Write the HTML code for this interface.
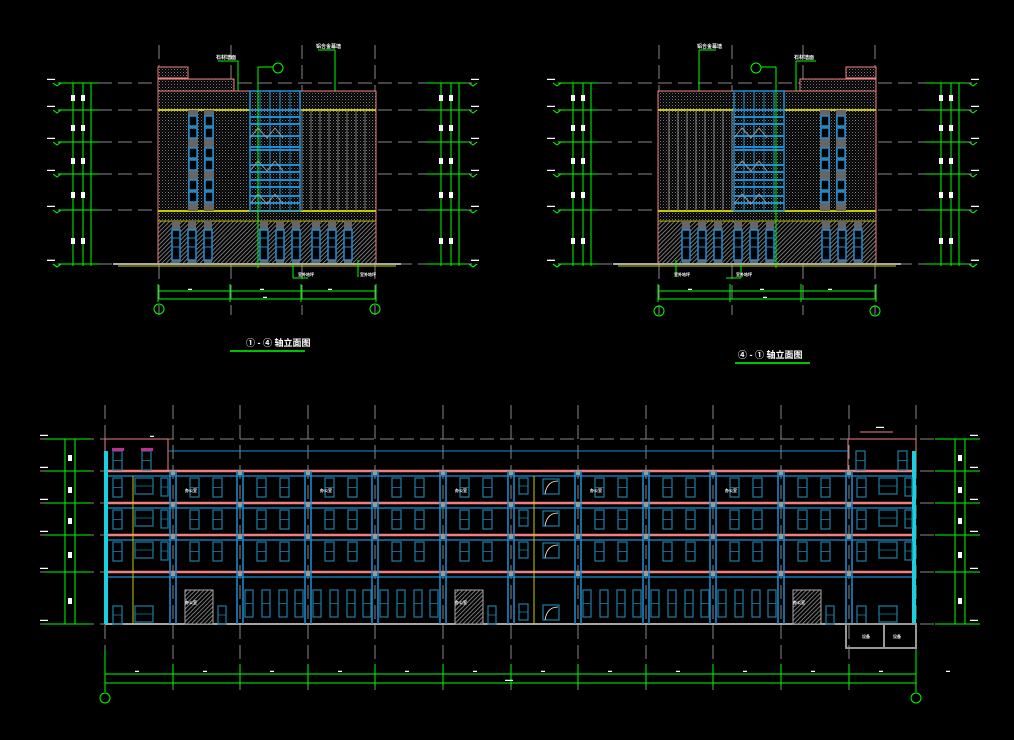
<!DOCTYPE html>
<html><head><meta charset="utf-8"><style>
html,body{margin:0;padding:0;background:#000;width:1014px;height:740px;overflow:hidden}
svg{display:block}
text{font-family:"Liberation Sans","Noto Sans CJK SC",sans-serif;fill:#fff;font-weight:bold}
</style></head><body>
<svg id="s" width="1014" height="740" viewBox="0 0 1014 740" xmlns="http://www.w3.org/2000/svg">
<defs>
<pattern id="dots" width="3" height="3" patternUnits="userSpaceOnUse"><rect width="3" height="3" fill="#000"/><rect x="0" y="0" width="1" height="1" fill="#777"/><rect x="1.5" y="1.5" width="1" height="1" fill="#555"/></pattern>
<pattern id="hatch" width="3" height="3" patternUnits="userSpaceOnUse" patternTransform="rotate(45)"><rect width="3" height="3" fill="#000"/><rect width="1" height="3" fill="#777"/></pattern>
</defs>
<g id="g"></g>
<text x="246" y="346" font-size="9">① - ④ 轴立面图</text>
<line x1="230" y1="351" x2="305" y2="351" stroke="#0f0" stroke-width="1.5"/>
<text x="738" y="358" font-size="9">④ - ① 轴立面图</text>
<line x1="735" y1="363" x2="810" y2="363" stroke="#0f0" stroke-width="1.5"/>
</svg>
<script>
var g=document.getElementById('g'),h='';
function L(x1,y1,x2,y2,c,w,d){h+='<line x1="'+x1+'" y1="'+y1+'" x2="'+x2+'" y2="'+y2+'" stroke="'+c+'" stroke-width="'+(w||1)+'"'+(d?' stroke-dasharray="'+d+'"':'')+'/>';}
function R(x,y,w,hh,f,s,sw){h+='<rect x="'+x+'" y="'+y+'" width="'+w+'" height="'+hh+'" fill="'+(f||'none')+'" stroke="'+(s||'none')+'" stroke-width="'+(sw||1)+'"/>';}
function C(x,y){h+='<circle cx="'+x+'" cy="'+y+'" r="5" fill="none" stroke="#0f0"/>';}
function T(x,y,s,sz){h+='<text x="'+x+'" y="'+y+'" font-size="'+(sz||4)+'">'+s+'</text>';}
var G='#0f0',B='#1a8fd6',P='#f08080',Y='#c8c800',GR='#888',WB='#1b7fa8';
function elev(x0,mir){
 var W=218,X=function(v){return mir? x0+W-v : x0+v;};
 var levels=[83,110,142,174,210,264];
 levels.forEach(function(y){L(x0-100,y,x0+W+100,y,GR,1,'14 6');});
 [1,73,144,217].forEach(function(v){L(X(v),45,X(v),315,GR,1,'14 6');});
 var a=X(0),b=X(30); R(Math.min(a,b),67,30,11,'url(#dots)',P);
 a=X(0);b=X(76); R(Math.min(a,b),79,76,12,'url(#dots)',P);
 R(x0,91,W,130,'url(#dots)',P);
 R(x0,221,W,43,'url(#hatch)',P);
 L(x0,110,x0+W,110,Y,2);L(x0,211,x0+W,211,Y,2);L(x0,221,x0+W,221,Y,1);
 for(var i=0;i<8;i++){L(X(144+i*9),110,X(144+i*9),211,GR,1);}
 var gx=Math.min(X(92),X(142)); R(gx,91,50,120,'none',B,1.5);
 for(i=1;i<5;i++)L(gx+i*10,91,gx+i*10,211,B,1);
 [110,117,124,136,147,150,165,172,180,187,196,203].forEach(function(y){L(gx,y,gx+50,y,B,2);});
 for(var k=0;k<3;k++){var yy=128+k*33;h+='<polyline points="'+gx+','+(yy+10)+' '+(gx+8)+','+yy+' '+(gx+17)+','+(yy+10)+' '+(gx+25)+','+yy+' '+(gx+33)+','+(yy+10)+'" fill="none" stroke="#999"/>';}
 [30,46].forEach(function(v){var cx=Math.min(X(v),X(v+10));R(cx,110,10,101,'#666');for(var k=0;k<3;k++){R(cx+1,116+k*32,8,10,'#000',B,1.5);R(cx+1,128+k*32,8,10,'#000',B,1.5);}});
 [14,30,46,102,118,134,154,170,186].forEach(function(v){var cx=Math.min(X(v),X(v+8));R(cx,221,8,43,'#666');R(cx,230,8,30,'#000',B,1.5);L(cx,238,cx+8,238,B,1);L(cx,247,cx+8,247,B,1);});
 L(x0-45,264,x0+W+25,264,'#aaa',2);L(x0-40,266,x0+W+20,266,Y,1);
 var lx=x0-95, rx=x0+W+55;
 [lx,rx].forEach(function(dx,j){
  L(dx+10,83,dx+10,266,G,1);L(dx+20,83,dx+20,266,G,1);L(dx+28,83,dx+28,266,G,1);
  levels.concat([264]).forEach(function(y){L(dx-5,y,dx+35,y,G,1);T(dx+(j?40:-16),y-3,'▬▬',4);h+='<polyline points="'+(dx+(j?38:-10))+','+y+' '+(dx+(j?42:-6))+','+(y+3)+' '+(dx+(j?46:-2))+','+y+'" fill="none" stroke="'+G+'"/>';});
  [95,125,158,192,238].forEach(function(y){R(dx+8,y,4,6,'#fff');R(dx+18,y,4,6,'#fff');});
 });
 L(x0,291,x0+W,291,G,1);L(x0,299,x0+W,299,G,1);
 [0,72,143,W].forEach(function(v){L(x0+v,284,x0+v,302,G,1);});
 T(x0+30,290,'▬',4);T(x0+102,290,'▬',4);T(x0+170,290,'▬',4);T(x0+105,298,'▬',4);
 C(x0+1,mir?311:309);C(x0+W-1,mir?311:309);
 L(X(80),61,X(80),91,G);L(X(60),61,X(80),61,G);T(Math.min(X(60),X(80))-2,59,'石材墙面',5);
 L(X(177),50,X(177),91,G);L(X(177),50,X(160),50,G);T(Math.min(X(177),X(160))-2,48,'铝合金幕墙',5);
 L(X(100),67,X(100),268,G);L(X(100),67,X(115),67,G);C(X(120),68);
 L(X(135),264,X(135),278,G);L(X(135),278,X(150),278,G);T(X(140),276,'室外地坪',4);
 L(X(200),260,X(200),277,G);T(X(202),276,'室外地坪',4);
}
elev(158,false);
elev(658,true);
var x0=105,x1=916,gy=624;
[439,471,503,535,572,624].forEach(function(y){L(40,y,x1+60,y,GR,1,'14 6');});
var cols=[];for(var i=0;i<13;i++)cols.push(Math.round(105+i*67.6));
cols.forEach(function(x){L(x,405,x,690,GR,1,'14 6');});
R(105,439,63,32,'none',P);R(848,439,68,32,'none',P);
L(168,451,848,451,B,1);
[471,503,535,572].forEach(function(y){L(105,y,916,y,P,2.5);L(105,y+5,916,y+5,B,1.2);});
L(105,624,916,624,'#ddd',1.5);
R(104,451,4,173,'#1ad0e0');R(912,451,4,173,'#1ad0e0');
for(i=1;i<12;i++){var x=cols[i];L(x-3,471,x-3,624,B,1.5);L(x+3,471,x+3,624,B,1.5);R(x-2,470,4,5,'#999');R(x-2,502,4,5,'#999');R(x-2,534,4,5,'#999');R(x-2,571,4,5,'#999');}
function win(x,y,w,hh){R(x,y,w,hh,'none',WB,1.2);L(x,y+hh/2,x+w,y+hh/2,WB,0.8);}
function stair(cx){[478,510,542,604].forEach(function(y){win(cx+8,y,9,16);R(cx+32,y+1,16,15,'none',WB,1.2);h+='<path d="M'+(cx+34)+','+(y+16)+' Q'+(cx+36)+','+(y+3)+' '+(cx+47)+','+(y+3)+'" fill="none" stroke="#fff" stroke-width="0.8"/>';});L(cx+23,476,cx+23,624,Y,1);}
for(i=1;i<11;i++){var cx=cols[i];
 if(i==6){stair(cx);continue;}
 [478,510,542].forEach(function(y){win(cx+17,y,9,19);win(cx+40,y,9,19);});
 if(i%2==1)T(cx+12,492,'办公室',4);
 if(i==1||i==5||i==10)continue;
 [590].forEach(function(y){win(cx+5,y,8,27);win(cx+22,y,8,27);win(cx+39,y,8,27);win(cx+55,y,8,27);});
}
[1,5,10].forEach(function(i){var cx=cols[i];R(cx+12,590,28,34,'url(#hatch)','#aaa');T(cx+12,604,'办公室',4);win(cx+45,606,8,18);});
[0,11].forEach(function(i){var cx=cols[i]+4;[478,510,542].forEach(function(y){win(cx+4,y,9,19);win(cx+26,y,18,16);win(cx+52,y,7,18);});win(cx+4,606,9,18);win(cx+26,606,18,16);});
L(133,476,133,624,Y,1);
win(113,451,9,19);win(142,451,9,19);win(856,451,9,19);win(898,451,9,19);
R(112,448,12,3,'#c0308a');R(141,448,12,3,'#c0308a');
R(846,624,70,24,'none','#999',2);L(884,624,884,648,'#999',2);T(862,638,'设备',4);T(893,638,'设备',4);
L(105,674,916,674,G,1);L(105,683,916,683,G,1);
cols.forEach(function(x){L(x,664,x,686,G,1);T(x+30,672,'▬',4);});
L(105,650,105,692,G);L(916,650,916,692,G);T(505,681,'▬▬',4);
C(105,698);C(916,698);
[[45,0],[935,1]].forEach(function(d){var dx=d[0];L(dx+20,439,dx+20,624,G);L(dx+30,439,dx+30,624,G);
 [439,471,503,535,572,624].forEach(function(y){L(dx,y,dx+45,y,G);T(d[1]?dx+35:dx-5,y-3,'▬▬',4);});
 [455,487,518,552,598].forEach(function(y){R(dx+23,y,4,6,'#fff');});});
T(150,437,'▬',4);T(876,428,'▬▬',4);L(860,432,893,432,P);
g.innerHTML=h;
</script>
</body></html>
